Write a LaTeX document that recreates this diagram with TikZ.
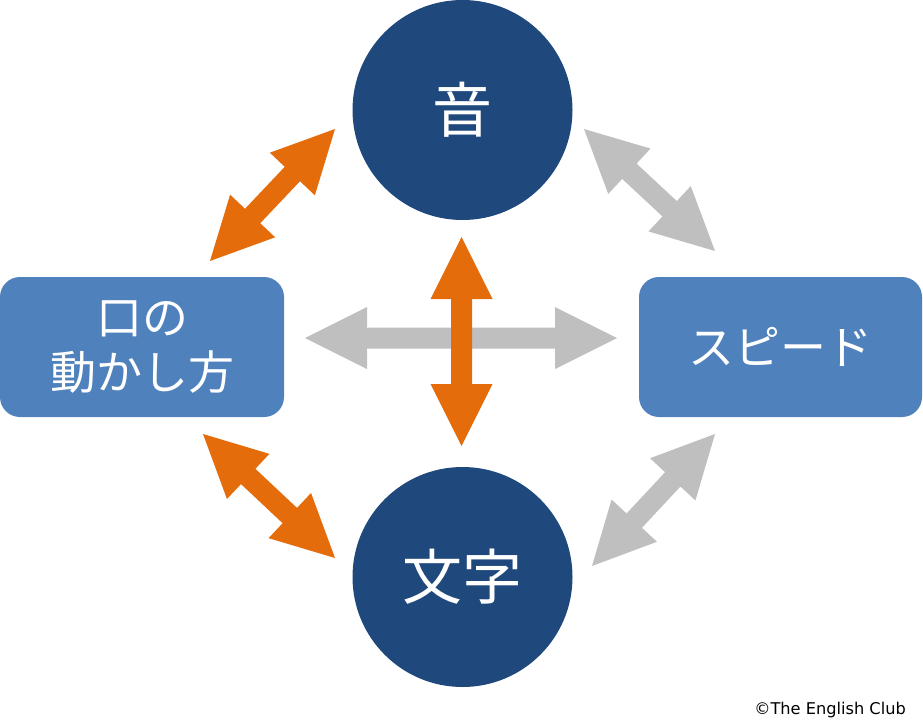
\documentclass[tikz,border=0pt]{standalone}
\usepackage{fontspec}
\setmainfont{Noto Sans CJK JP}
\newfontfamily\copyfont{DejaVu Sans}
\usetikzlibrary{calc}
\definecolor{circblue}{HTML}{1F497D}
\definecolor{boxblue}{HTML}{4F81BD}
\definecolor{arrorange}{HTML}{E46C0A}
\definecolor{arrgray}{HTML}{BFBFBF}
% block double arrow between two named coordinates: head length 62, head width 62, shaft width 21
\newcommand\blockarrow[3]{%
  \fill[#1] (#2) -- ($(#2)!69.32pt!26.565:(#3)$) -- ($(#2)!62.88pt!9.612:(#3)$)
    -- ($(#3)!62.88pt!-9.612:(#2)$) -- ($(#3)!69.32pt!-26.565:(#2)$) -- (#3)
    -- ($(#3)!69.32pt!26.565:(#2)$) -- ($(#3)!62.88pt!9.612:(#2)$)
    -- ($(#2)!62.88pt!-9.612:(#3)$) -- ($(#2)!69.32pt!-26.565:(#3)$) -- cycle;}
\begin{document}
\begin{tikzpicture}[x=1pt,y=-1pt,
  circ/.style={circle, fill=circblue, minimum size=220pt, inner sep=0pt, text=white, font=\fontsize{60}{72}\selectfont},
  box/.style={rectangle, rounded corners=20pt, fill=boxblue, minimum height=140pt, inner sep=0pt, text=white, align=center, font=\fontsize{46}{55}\selectfont},
]
\useasboundingbox (0,0) rectangle (923,723);
% nodes
\node[circ] (oto) at (462.5,110) {音};
\node[circ] (moji) at (462.5,577) {文字};
\node[box, minimum width=284pt] (kuchi) at (142,347) {口の\\動かし方};
\node[box, minimum width=283pt] (speed) at (780.5,347) {スピード};
% arrow end points
\coordinate (o1a) at (335,129); \coordinate (o1b) at (210,261);
\coordinate (g1a) at (584,129); \coordinate (g1b) at (715,251);
\coordinate (o2a) at (203,434); \coordinate (o2b) at (335,558);
\coordinate (g2a) at (715,434); \coordinate (g2b) at (592,566);
\coordinate (gha) at (305,338); \coordinate (ghb) at (617,338);
\coordinate (ova) at (461.5,237); \coordinate (ovb) at (461.5,446);
% arrows
\blockarrow{arrorange}{o1a}{o1b}
\blockarrow{arrgray}{g1a}{g1b}
\blockarrow{arrorange}{o2a}{o2b}
\blockarrow{arrgray}{g2a}{g2b}
\blockarrow{arrgray}{gha}{ghb}
\blockarrow{arrorange}{ova}{ovb}
% copyright
\node[anchor=base east, inner sep=0pt, font=\copyfont\fontsize{16.2}{19}\selectfont] (copy) at (906,714) {©The English Club};
\end{tikzpicture}
\end{document}
